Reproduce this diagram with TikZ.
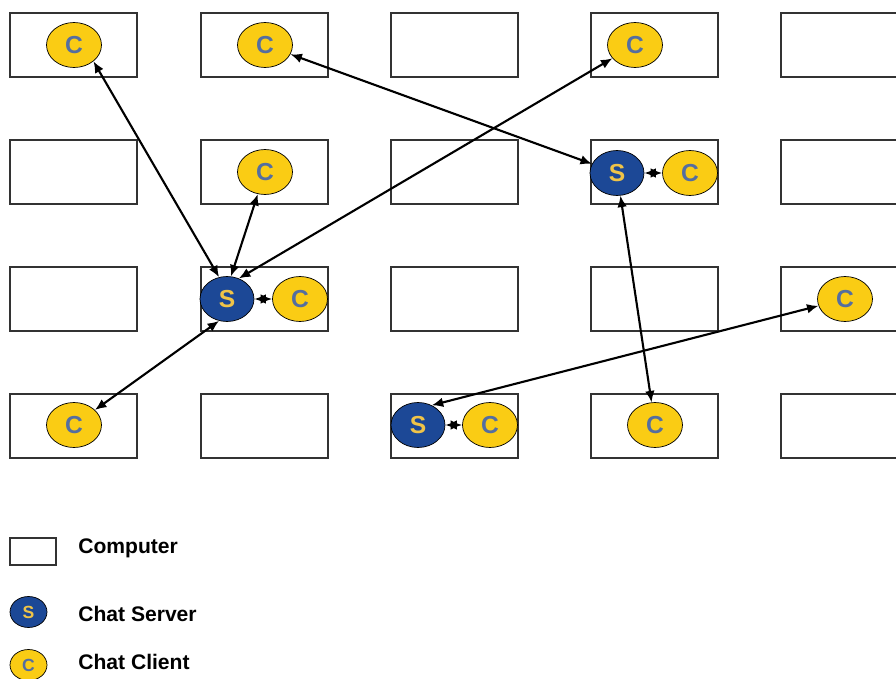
\documentclass[tikz,border=0pt]{standalone}
\usepackage{fontspec}
\setmainfont{Liberation Sans}
\usetikzlibrary{arrows.meta, shapes.geometric}

\definecolor{srvblue}{RGB}{28,72,150}
\definecolor{cltyellow}{RGB}{250,204,20}
\definecolor{cltletter}{RGB}{84,110,160}
\definecolor{srvletter}{RGB}{240,196,72}

\begin{document}
\begin{tikzpicture}[x=0.02cm, y=-0.02cm]

\tikzset{computer/.style = {shape=rectangle, draw=black!80, line width=0.8pt, minimum width=2.54cm, minimum height=1.28cm, inner sep=0pt}}
\tikzset{server/.style = {shape=ellipse, draw=black, fill=srvblue, minimum width=1.08cm, minimum height=0.9cm, inner sep=0pt, text=srvletter, font=\fontsize{14}{16}\selectfont\bfseries}}
\tikzset{client/.style = {shape=ellipse, draw=black, fill=cltyellow, minimum width=1.1cm, minimum height=0.9cm, inner sep=0pt, text=cltletter, font=\fontsize{14}{16}\selectfont\bfseries}}
\tikzset{edge/.style = {<->, > = {Latex[length=6.5pt, width=5.5pt]}, line width=1.2pt}}
\tikzset{legend/.style = {anchor=west, font=\fontsize{12}{14}\selectfont\bfseries, inner sep=0pt}}

\clip (0,0) rectangle (896,679);
\useasboundingbox (0,0) rectangle (896,679);

%computers
\node[computer] (p11) at (73.5,45) {};
\node[computer] (p21) at (264.5,45) {};
\node[computer] (p31) at (454.5,45) {};
\node[computer] (p41) at (654.5,45) {};
\node[computer] (p51) at (844.5,45) {};
\node[computer] (p12) at (73.5,172) {};
\node[computer] (p22) at (264.5,172) {};
\node[computer] (p32) at (454.5,172) {};
\node[computer] (p42) at (654.5,172) {};
\node[computer] (p52) at (844.5,172) {};
\node[computer] (p13) at (73.5,299) {};
\node[computer] (p23) at (264.5,299) {};
\node[computer] (p33) at (454.5,299) {};
\node[computer] (p43) at (654.5,299) {};
\node[computer] (p53) at (844.5,299) {};
\node[computer] (p14) at (73.5,426) {};
\node[computer] (p24) at (264.5,426) {};
\node[computer] (p34) at (454.5,426) {};
\node[computer] (p44) at (654.5,426) {};
\node[computer] (p54) at (844.5,426) {};

%servers
\node[server] (s1) at (227,299) {S};
\node[server] (s2) at (617,173) {S};
\node[server] (s3) at (418,425) {S};

%clients
\node[client] (c1) at (74,45) {C};
\node[client] (c2) at (265,45) {C};
\node[client] (c3) at (635,45) {C};
\node[client] (c4) at (265,172) {C};
\node[client] (c5) at (690,173) {C};
\node[client] (c6) at (300,299) {C};
\node[client] (c7) at (845,299) {C};
\node[client] (c8) at (74,425) {C};
\node[client] (c9) at (490,425) {C};
\node[client] (c10) at (655,425) {C};

%edges
\draw [edge] (s1.110) -- (c1.-40);
\draw [edge] (s1.80) -- (c4);
\draw [edge] (s1.60) -- (c3);
\draw [edge] (s1.-110) -- (c8);
\draw [edge] (s1) -- (c6);
\draw [edge] (s2) -- (c2);
\draw [edge] (s2) -- (c10);
\draw [edge] (s2) -- (c5);
\draw [edge] (s3.55) -- (c7);
\draw [edge] (s3) -- (c9);

%legend
\node[computer, minimum width=0.92cm, minimum height=0.54cm] (kpc) at (33,551.5) {};
\node[server, minimum width=0.74cm, minimum height=0.62cm, font=\fontsize{10}{12}\selectfont\bfseries] (ksrv) at (28.5,612) {S};
\node[client, minimum width=0.74cm, minimum height=0.62cm, font=\fontsize{10}{12}\selectfont\bfseries] (kclt) at (28.5,665) {C};
\node[legend] (lpc) at (78,548) {Computer};
\node[legend] (lsrv) at (78,614) {Chat Server};
\node[legend] (lclt) at (78,662) {Chat Client};

\end{tikzpicture}
\end{document}
